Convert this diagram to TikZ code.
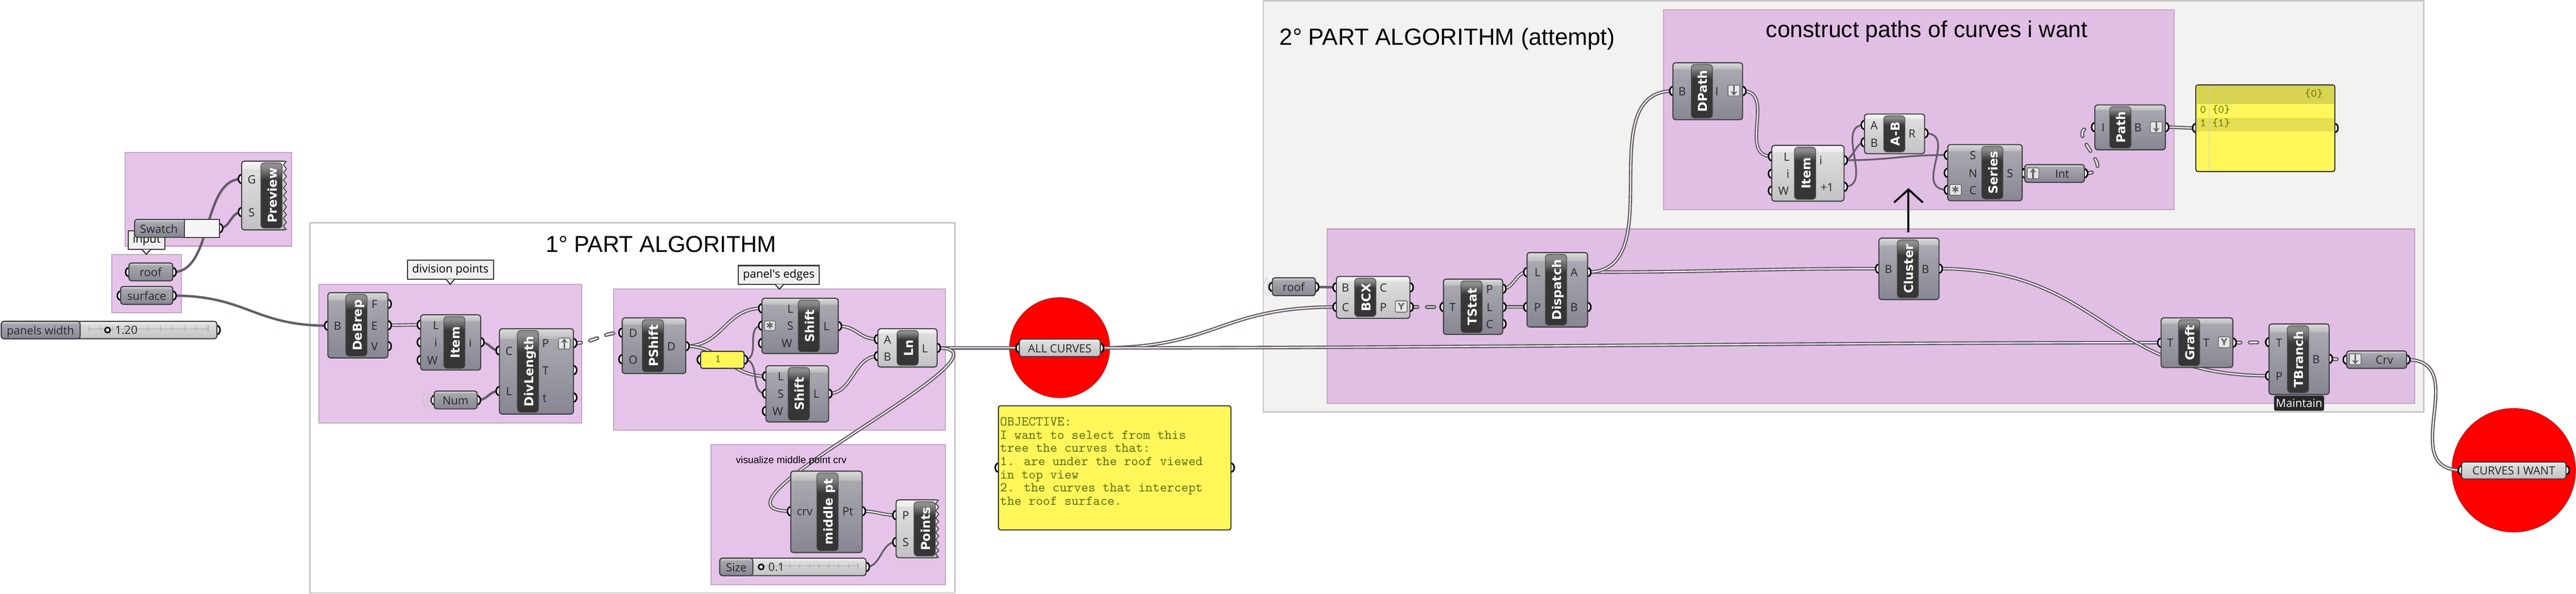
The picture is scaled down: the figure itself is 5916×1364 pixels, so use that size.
\documentclass[tikz,border=0pt]{standalone}
\usepackage{fontspec}
\setmainfont{Open Sans}
\newfontfamily\headfont{Liberation Sans}
\newfontfamily\capfont{DejaVu Sans}
\usetikzlibrary{arrows.meta,calc,positioning,shapes.geometric}
\definecolor{pinkA}{HTML}{E6C4EA}
\definecolor{pinkB}{HTML}{E1BFE5}
\definecolor{pinkline}{HTML}{BFA6C4}
\definecolor{partgray}{HTML}{F3F2F0}
\definecolor{stickyfill}{HTML}{FFF75A}
\definecolor{stickyhead}{HTML}{D9D44F}
\definecolor{stickytext}{HTML}{66741A}
\definecolor{wiregray}{HTML}{645C66}
\pgfdeclareverticalshading{darkshade}{100bp}{rgb(0bp)=(.53,.53,.58); rgb(25bp)=(.53,.53,.58); rgb(69bp)=(.66,.66,.69); rgb(69.5bp)=(.74,.74,.75); rgb(75bp)=(.86,.86,.86); rgb(100bp)=(.86,.86,.86)}
\pgfdeclareverticalshading{lightshade}{100bp}{rgb(0bp)=(.76,.76,.77); rgb(25bp)=(.76,.76,.77); rgb(69bp)=(.87,.87,.87); rgb(69.5bp)=(.92,.92,.92); rgb(75bp)=(.97,.97,.97); rgb(100bp)=(.97,.97,.97)}
\pgfdeclareverticalshading{capshade}{100bp}{rgb(0bp)=(.2,.2,.2); rgb(62bp)=(.22,.22,.22); rgb(72bp)=(.55,.55,.55); rgb(100bp)=(.55,.55,.55)}
\pgfdeclarelayer{grouplay}
\pgfdeclarelayer{wirelay}
\pgfdeclarelayer{pinlay}
\pgfsetlayers{grouplay,wirelay,pinlay,main}
\tikzset{%
	bodydark/.style  = {draw=black!75, line width=0.025cm, rounded corners=0.06cm, shading=darkshade, inner sep=0pt, outer sep=0pt},
	bodylight/.style = {draw=black!75, line width=0.025cm, rounded corners=0.06cm, shading=lightshade, inner sep=0pt, outer sep=0pt},
	captext/.style   = {text=white, font=\capfont\bfseries\fontsize{8}{9}\selectfont, rotate=90, inner sep=0pt, text height=1.6ex, text depth=0.3ex},
	portlab/.style   = {inner sep=0pt, font=\fontsize{7.4}{9}\selectfont, text=black!85, text height=1.5ex, text depth=0.4ex},
	pinport/.style   = {ellipse, draw=black, fill=white, line width=0.035cm, minimum width=0.15cm, minimum height=0.2cm, inner sep=0pt},
	grpbox/.style    = {draw=pinkline, line width=0.025cm, fill=pinkA, inner sep=0pt, outer sep=0pt},
	bigbox/.style    = {draw=black!22, line width=0.03cm, inner sep=0pt, outer sep=0pt},
	bubble/.style    = {draw=black!80, fill=black!6, line width=0.025cm, inner sep=0pt, outer sep=0pt, font=\fontsize{7.4}{9}\selectfont},
	sticky/.style    = {draw=black!80, fill=stickyfill, line width=0.025cm, rounded corners=0.05cm, inner sep=0pt, outer sep=0pt},
	redspot/.style   = {circle, draw=red!60!black, fill=red, line width=0.01cm, inner sep=0pt},
	iconbox/.style   = {draw=black!55, fill=black!10, line width=0.02cm, rounded corners=0.03cm, inner sep=0pt, minimum width=0.27cm, minimum height=0.25cm, text=black!60, font=\capfont\bfseries\fontsize{6}{6}\selectfont},
	iconmark/.style  = {draw=black!60, line width=0.04cm, -{Stealth[length=0.1cm,width=0.16cm]}},
	knob/.style      = {circle, draw=black, fill=white, line width=0.035cm, inner sep=0pt, minimum size=0.12cm},
	headline/.style  = {inner sep=0pt, font=\headfont\fontsize{15}{17}\selectfont},
	wirebold/.style  = {draw=wiregray, line width=0.055cm},
	wirethin/.style  = {draw=wiregray, line width=0.04cm},
	wirelist/.style  = {draw=wiregray, line width=0.028cm, double=white, double distance=0.025cm},
	wiretree/.style  = {draw=wiregray, line width=0.03cm, double=white, double distance=0.03cm, line cap=round, dash pattern=on 5pt off 6pt},
	handarrow/.style = {draw=black, line width=0.045cm, -{Straight Barb[length=0.3cm,width=0.66cm]}},
}
\newcommand{\gbox}[6][grpbox]{%
	\begin{pgfonlayer}{grouplay}
		\node[#1, minimum width={(#5-#3)*0.01cm}, minimum height={(#6-#4)*0.01cm}] (#2) at ({(#3+#5)/2},{(#4+#6)/2}) {};
	\end{pgfonlayer}}
\newcommand{\gcomp}[8][bodydark]{%
	\node[#1, minimum width={(#5-#3)*0.01cm}, minimum height={(#6-#4)*0.01cm}] (#2) at ({(#3+#5)/2},{(#4+#6)/2}) {};
	\path[draw=black!70, shading=capshade, rounded corners=0.08cm] (#7,{#4+4}) rectangle ({#7+49},{#6-4});
	\node[captext] (#2-cap) at ({#7+24.5},{(#4+#6)/2}) {#8};}
\newcommand{\gparam}[8][bodydark]{%
	\node[#1, minimum width={(#5-#3)*0.01cm}, minimum height={(#6-#4)*0.01cm}] (#2) at ({(#3+#5)/2},{(#4+#6)/2}) {};
	\node[portlab] (#2-txt) at (#7,{(#4+#6)/2}) {#8};}
\newcommand{\pins}[3]{%
	\foreach \pn/\py/\lx/\plab in {#3}{%
		\begin{pgfonlayer}{pinlay}
			\node[pinport] (#1-\pn) at (#2,\py) {};
		\end{pgfonlayer}
		\node[portlab] (#1-\pn-lab) at (\lx,\py) {\plab};}}
\newcommand{\pinonly}[3]{%
	\begin{pgfonlayer}{pinlay}
		\node[pinport] (#1) at (#2,#3) {};
	\end{pgfonlayer}}
\newcommand{\gbubble}[8]{%
	\node[bubble, minimum width={(#4-#2)*0.01cm}, minimum height={(#5-#3)*0.01cm}] (#1) at ({(#2+#4)/2},{(#3+#5)/2}) {#8};
	\path[draw=black!80, fill=black!6, line width=0.025cm] ({#6-10},#5) -- (#6,#7) -- ({#6+10},#5);}
\newcommand{\zigedge}[5]{%
	\foreach \zi in {1,...,#4}{%
		\pgfmathsetmacro\za{#2+(\zi-1)*(#3-#2)/#4}
		\pgfmathsetmacro\zb{#2+\zi*(#3-#2)/#4}
		\fill[#5] ({#1+3},\za) -- (#1,\za) -- ({#1-7},{(\za+\zb)/2}) -- (#1,\zb) -- ({#1+3},\zb) -- cycle;
		\draw[black!75, line width=0.02cm] (#1,\za) -- ({#1-7},{(\za+\zb)/2}) -- (#1,\zb);}}
\newcommand{\ripple}[2]{%
	\foreach \r in {12,20,28}{\draw[black!25, line width=0.012cm] (#1,#2) ++(130:\r) arc[start angle=130, end angle=230, radius=\r];}}
\newcommand{\gtrack}[3]{%
	\draw[black!35, line width=0.012cm] (#1,#3) -- (#2,#3);
	\foreach \tk in {0,...,10}{\draw[black!35, line width=0.012cm] ({#1+\tk*(#2-#1)/10},{#3-7}) -- ({#1+\tk*(#2-#1)/10},{#3+7});}}
\newcommand{\upicon}[3]{%
	\node[iconbox] (#1) at (#2,#3) {};
	\draw[iconmark] ($(#1.south)+(0,-2)$) -- ($(#1.north)+(0,2)$);}
\newcommand{\downicon}[3]{%
	\node[iconbox] (#1) at (#2,#3) {};
	\draw[iconmark] ($(#1.north)+(0,2)$) -- ($(#1.south)+(0,-2)$);}

\begin{document}
\begin{tikzpicture}[x=0.01cm,y=-0.01cm]
	\useasboundingbox (0,0) rectangle (5916,1364);
	
	\gbox[bigbox,fill=white]{partone}{712}{512}{2193}{1362}
	\gbox[bigbox,fill=partgray]{parttwo}{2901}{2}{5566}{946}
	\gbox{grppreview}{288}{350}{670}{565}
	\gbox{grpinput}{257}{584}{416}{718}
	\gbox{grpdivision}{732}{653}{1336}{971}
	\gbox{grpedges}{1409}{664}{2171}{988}
	\gbox{grpmiddle}{1633}{1021}{2171}{1343}
	\gbox[grpbox,fill=pinkB]{grppaths}{3821}{22}{4993}{482}
	\gbox[grpbox,fill=pinkB]{grpselect}{3048}{526}{5546}{926}
	\begin{pgfonlayer}{grouplay}
		\node[redspot, minimum size=2.3cm] (spotall) at (2433.5,798.5) {};
		\node[redspot, minimum size=2.84cm] (spotwant) at (5773,1080) {};
	\end{pgfonlayer}
	
	\node[headline] (titleone) at (1518,561) {1° PART ALGORITHM};
	\node[headline,anchor=west,font=\headfont\fontsize{15.3}{17}\selectfont] (titletwo) at (2938,90) {2° PART ALGORITHM (attempt)};
	\node[headline,anchor=west,font=\headfont\fontsize{15}{17}\selectfont] (titlepaths) at (4055,72) {construct paths of curves i want};
	\node[inner sep=0pt,font=\headfont\fontsize{6.5}{8}\selectfont] (notemiddle) at (1817,1058) {visualize middle point crv};
	
	% left inputs
	\gbubble{bubinput}{295}{530}{379}{573}{336}{584}{\raisebox{-0.5ex}{input}}
	\gcomp[bodylight]{preview}{555}{370}{658}{528}{599}{Preview}
	\zigedge{658}{370}{528}{9}{pinkA}
	\pins{preview}{555}{g/411/578/G,s/487/578/S}
	\gparam{swatch}{309}{504}{504}{545}{365}{Swatch}
	\node[draw=black!75,fill=black!4,line width=0.025cm,inner sep=0pt,minimum width=0.8cm,minimum height=0.41cm] (swatchbox) at (464,524.5) {};
	\pinonly{swatch-out}{504}{524}
	\gparam{roof}{296}{604}{397}{645}{346}{roof}
	\pinonly{roof-in}{296}{625}
	\pinonly{roof-out}{397}{625}
	\gparam{surface}{277}{658}{397}{699}{337}{surface}
	\pinonly{surface-in}{277}{679}
	\pinonly{surface-out}{397}{679}
	\node[bodylight,minimum width=4.95cm,minimum height=0.4cm] (widthslider) at (250.5,758) {};
	\gparam{widthlab}{3}{738}{184}{778}{93}{panels width}
	\gtrack{204}{478}{755}
	\node[knob] (widthknob) at (247,758) {};
	\node[portlab,fill=none] (widthval) at (290,757) {1.20};
	\pinonly{widthslider-out}{498}{758}
	
	% division points
	\gbubble{bubdivision}{936}{598}{1133}{641}{1034}{653}{division points}
	\gcomp{debrep}{753}{672}{891}{822}{794}{DeBrep}
	\pins{debrep}{753}{b/748/775/B}
	\pins{debrep}{891}{f/698/860/F,e/747/860/E,v/795/860/V}
	\gcomp{item}{966}{723}{1104}{850}{1019}{Item}
	\pins{item}{966}{l/746/1001/L,i/786/1001/i,w/827/993/W}
	\pins{item}{1104}{o/786/1080/i}
	\gcomp{divlength}{1147}{755}{1317}{951}{1188}{DivLength}
	\pins{divlength}{1147}{c/805/1169/C,l/898/1169/L}
	\pins{divlength}{1317}{p/788/1253/P,t/850/1253/T,s/913/1251/t}
	\upicon{divicon}{1296}{789}
	\ripple{1000}{919}
	\gparam{num}{997}{898}{1096}{939}{1046}{Num}
	\pinonly{num-in}{997}{919}
	\pinonly{num-out}{1096}{919}
	
	% panel's edges
	\gbubble{bubedges}{1696}{610}{1881}{653}{1790}{664}{panel\textquotesingle s edges}
	\gcomp{pshift}{1429}{730}{1575}{858}{1475}{PShift}
	\pins{pshift}{1429}{d/764/1454/D,o/825/1454/O}
	\pins{pshift}{1575}{r/795/1542/D}
	\node[sticky,minimum width=1cm,minimum height=0.39cm] (one) at (1659,826.5) {};
	\node[inner sep=0pt,text=stickytext,font=\ttfamily\fontsize{7.4}{9}\selectfont] (onetxt) at (1649,824) {1};
	\pinonly{one-in}{1609}{826}
	\pinonly{one-out}{1709}{826}
	\gcomp{shiftup}{1750}{685}{1925}{812}{1833}{Shift}
	\pins{shiftup}{1750}{l/708/1815/L,s/748/1815/S,w/788/1807/W}
	\pins{shiftup}{1925}{o/749/1898/L}
	\node[iconbox,minimum height=0.22cm,minimum width=0.25cm] (shifticon) at (1768,748) {✱};
	\gcomp{shiftdn}{1759}{840}{1903}{969}{1810}{Shift}
	\pins{shiftdn}{1759}{l/864/1793/L,s/904/1793/S,w/944/1786/W}
	\pins{shiftdn}{1903}{o/904/1875/L}
	\gcomp[bodylight]{line}{2016}{755}{2152}{843}{2060}{Ln}
	\pins{line}{2016}{a/779/2038/A,b/818/2038/B}
	\pins{line}{2152}{o/799/2124/L}
	
	% middle point
	\gcomp{middle}{1816}{1082}{1980}{1269}{1876}{middle pt}
	\pins{middle}{1816}{c/1174/1848/crv}
	\pins{middle}{1980}{p/1174/1947/Pt}
	\gcomp[bodylight]{points}{2058}{1148}{2156}{1281}{2099}{Points}
	\zigedge{2156}{1148}{1281}{8}{pinkA}
	\pins{points}{2058}{p/1183/2080/P,s/1245/2080/S}
	\node[bodylight,minimum width=3.36cm,minimum height=0.4cm] (sizeslider) at (1821,1302) {};
	\gparam{sizelab}{1653}{1282}{1729}{1322}{1691}{Size}
	\gtrack{1748}{1970}{1300}
	\node[knob] (sizeknob) at (1748,1302) {};
	\node[portlab] (sizeval) at (1783,1301) {0.1};
	\pinonly{sizeslider-out}{1989}{1302}
	
	% all curves and objective
	\gparam[bodylight]{allcurves}{2341}{779}{2527}{819}{2434}{ALL CURVES}
	\pinonly{allcurves-in}{2341}{799}
	\pinonly{allcurves-out}{2527}{799}
	\node[sticky,minimum width=5.34cm,minimum height=2.85cm] (objective) at (2560,1074.5) {};
	\node[anchor=north west,inner sep=0pt,align=left,text=stickytext,font=\ttfamily\fontsize{8.9}{8.62}\selectfont] (objectivetxt) at (2296,958) {OBJECTIVE:\\I want to select from this\\tree the curves that:\\1. are under the roof viewed\\in top view\\2. the curves that intercept\\the roof surface.};
	\pinonly{objective-in}{2293}{1074}
	\pinonly{objective-out}{2827}{1074}
	
	% second part
	\ripple{2930}{659}
	\gparam{roofb}{2922}{638}{3021}{679}{2971}{roof}
	\pinonly{roofb-in}{2922}{659}
	\pinonly{roofb-out}{3021}{659}
	\gcomp[bodylight]{bcx}{3069}{635}{3238}{731}{3111}{BCX}
	\pins{bcx}{3069}{b/660/3090/B,c/705/3090/C}
	\pins{bcx}{3238}{o/660/3177/C,p/705/3177/P}
	\node[iconbox,minimum height=0.26cm] (bcxicon) at (3218,704) {Y};
	\gcomp{tstat}{3315}{641}{3451}{768}{3355}{TStat}
	\pins{tstat}{3315}{t/705/3336/T}
	\pins{tstat}{3451}{p/663/3421/P,l/705/3421/L,c/744/3421/C}
	\gcomp{dispatch}{3507}{580}{3646}{751}{3549}{Dispatch}
	\pins{dispatch}{3507}{l/625/3531/L,p/705/3531/P}
	\pins{dispatch}{3646}{a/625/3615/A,b/705/3615/B}
	\gcomp{cluster}{4315}{547}{4453}{688}{4357}{Cluster}
	\pins{cluster}{4315}{i/617/4337/B}
	\pins{cluster}{4453}{o/617/4422/B}
	\gcomp{graft}{4963}{730}{5128}{844}{5003}{Graft}
	\pins{graft}{4963}{i/787/4984/T}
	\pins{graft}{5128}{o/787/5067/T}
	\node[iconbox,minimum height=0.25cm] (grafticon) at (5108,786) {Y};
	\node[fill=black!85,rounded corners=0.04cm,text=white,inner sep=0pt,minimum width=1.15cm,minimum height=0.35cm,font=\fontsize{7.4}{9}\selectfont] (maintain) at (5280,926) {Maintain};
	\gcomp{tbranch}{5211}{744}{5349}{906}{5253}{TBranch}
	\pins{tbranch}{5211}{t/786/5234/T,p/863/5234/P}
	\pins{tbranch}{5349}{b/824/5319/B}
	\gparam{crv}{5389}{806}{5527}{846}{5476}{Crv}
	\pinonly{crv-in}{5389}{826}
	\pinonly{crv-out}{5527}{826}
	\downicon{crvicon}{5409}{825}
	\gparam[bodylight]{curveswant}{5653}{1061}{5893}{1100}{5773}{CURVES I WANT}
	\pinonly{curveswant-in}{5653}{1080}
	\pinonly{curveswant-out}{5893}{1080}
	
	% construct paths
	\gcomp{dpath}{3842}{144}{4002}{275}{3884}{DPath}
	\pins{dpath}{3842}{b/209/3863/B}
	\pins{dpath}{4002}{i/209/3943/I}
	\downicon{dpathicon}{3982}{208}
	\gcomp[bodylight]{itemb}{4069}{334}{4235}{462}{4121}{Item}
	\pins{itemb}{4069}{l/359/4103/L,i/399/4106/i,w/438/4096/W}
	\pins{itemb}{4235}{o/368/4182/i,n/429/4196/+1}
	\gcomp[bodylight]{minus}{4282}{262}{4420}{353}{4326}{A-B}
	\pins{minus}{4282}{a/287/4304/A,b/327/4304/B}
	\pins{minus}{4420}{r/306/4391/R}
	\gcomp{series}{4473}{332}{4644}{461}{4551}{Series}
	\pins{series}{4473}{s/356/4531/S,n/397/4531/N,c/436/4531/C}
	\pins{series}{4644}{o/397/4616/S}
	\node[iconbox] (seriesicon) at (4491,436) {✱};
	\gparam{int}{4650}{378}{4787}{419}{4736}{Int}
	\pinonly{int-in}{4650}{398}
	\pinonly{int-out}{4787}{398}
	\upicon{inticon}{4669}{398}
	\gcomp{path}{4811}{241}{4973}{344}{4845}{Path}
	\pins{path}{4811}{i/292/4830/I}
	\pins{path}{4973}{o/292/4910/B}
	\downicon{pathicon}{4952}{292}
	\node[sticky,minimum width=3.19cm,minimum height=1.99cm] (treepanel) at (5202.5,294.5) {};
	\fill[stickyhead] (5045,197) rectangle (5360,239);
	\fill[stickyfill!90!black] (5045,271) rectangle (5360,302);
	\draw[black!20] (5074,197) -- (5074,392);
	\node[inner sep=0pt,text=stickytext,font=\ttfamily\fontsize{7.4}{9}\selectfont] (treehead) at (5314,215) {\{0\}};
	\node[inner sep=0pt,text=stickytext,font=\ttfamily\fontsize{7.4}{9}\selectfont,anchor=west] (treeone) at (5052,252) {0 \{0\}};
	\node[inner sep=0pt,text=stickytext,font=\ttfamily\fontsize{7.4}{9}\selectfont,anchor=west] (treetwo) at (5052,283) {1 \{1\}};
	\pinonly{treepanel-in}{5043}{294}
	\pinonly{treepanel-out}{5362}{294}
	
	\coordinate (arrowfoot) at (4383,534);
	\coordinate (arrowtop) at (4383,432);
	\draw[handarrow] (arrowfoot) -- (arrowtop);
	
	\begin{pgfonlayer}{wirelay}
		\draw[wirebold] (roof-out.center) .. controls (490,625) and (463,411) .. (preview-g.center);
		\draw[wirebold] (swatch-out.center) .. controls +(25,0) and +(-25,0) .. (preview-s.center);
		\draw[wirebold] (surface-out.center) .. controls +(170,0) and +(-170,0) .. (debrep-b.center);
		\draw[wirelist] (debrep-e.center) .. controls +(30,0) and +(-30,0) .. (item-l.center);
		\draw[wirebold] (item-o.center) .. controls +(20,0) and +(-20,0) .. (divlength-c.center);
		\draw[wirebold] (num-out.center) .. controls +(25,0) and +(-25,0) .. (divlength-l.center);
		\draw[wiretree] (divlength-p.center) .. controls +(50,0) and +(-50,0) .. (pshift-d.center);
		\draw[wirelist] (pshift-r.center) .. controls +(85,0) and +(-85,0) .. (shiftup-l.center);
		\draw[wirelist] (pshift-r.center) .. controls +(85,0) and +(-85,0) .. (shiftdn-l.center);
		\draw[wirethin] (one-out.center) .. controls +(40,0) and +(-40,0) .. (shiftup-s.center);
		\draw[wirethin] (one-out.center) .. controls +(40,0) and +(-40,0) .. (shiftdn-s.center);
		\draw[wirelist] (shiftup-o.center) .. controls +(45,0) and +(-45,0) .. (line-a.center);
		\draw[wirelist] (shiftdn-o.center) .. controls +(55,0) and +(-55,0) .. (line-b.center);
		\draw[wirelist] (line-o.center) -- (allcurves-in.center);
		\draw[wirelist] (line-o.center) .. controls (2370,799) and (1570,1174) .. (middle-c.center);
		\draw[wirelist] (middle-p.center) .. controls +(35,0) and +(-35,0) .. (points-p.center);
		\draw[wirethin] (sizeslider-out.center) .. controls +(35,0) and +(-35,0) .. (points-s.center);
		\draw[wirelist] (allcurves-out.center) .. controls +(270,0) and +(-270,0) .. (bcx-c.center);
		\draw[wirelist] (allcurves-out.center) .. controls +(800,0) and +(-800,0) .. (graft-i.center);
		\draw[wirebold] (roofb-out.center) -- (bcx-b.center);
		\draw[wiretree] (bcx-p.center) -- (tstat-t.center);
		\draw[wirelist] (tstat-p.center) .. controls +(25,0) and +(-25,0) .. (dispatch-l.center);
		\draw[wirelist] (tstat-l.center) -- (dispatch-p.center);
		\draw[wirelist] (dispatch-a.center) .. controls +(300,0) and +(-300,0) .. (cluster-i.center);
		\draw[wirelist] (dispatch-a.center) .. controls (3840,625) and (3650,209) .. (dpath-b.center);
		\draw[wirelist] (dpath-i.center) .. controls (4080,209) and (3990,359) .. (itemb-l.center);
		\draw[wirethin] (itemb-o.center) .. controls +(20,0) and +(-20,0) .. (minus-b.center);
		\draw[wirethin] (itemb-n.center) .. controls +(70,0) and +(-70,0) .. (minus-a.center);
		\draw[wirethin] (itemb-o.center) .. controls +(110,0) and +(-110,0) .. (series-s.center);
		\draw[wirethin] (minus-r.center) .. controls (4500,306) and (4390,436) .. (series-c.center);
		\draw[wirethin] (series-o.center) -- (int-in.center);
		\draw[wiretree] (int-out.center) .. controls (4880,398) and (4720,292) .. (path-i.center);
		\draw[wirelist] (path-o.center) .. controls +(30,0) and +(-30,0) .. (treepanel-in.center);
		\draw[wirelist] (cluster-o.center) .. controls (4830,617) and (4830,863) .. (tbranch-p.center);
		\draw[wiretree] (graft-o.center) -- (tbranch-t.center);
		\draw[wiretree] (tbranch-b.center) -- (crv-in.center);
		\draw[wirelist] (crv-out.center) .. controls (5680,826) and (5500,1080) .. (curveswant-in.center);
	\end{pgfonlayer}
\end{tikzpicture}
\end{document}
